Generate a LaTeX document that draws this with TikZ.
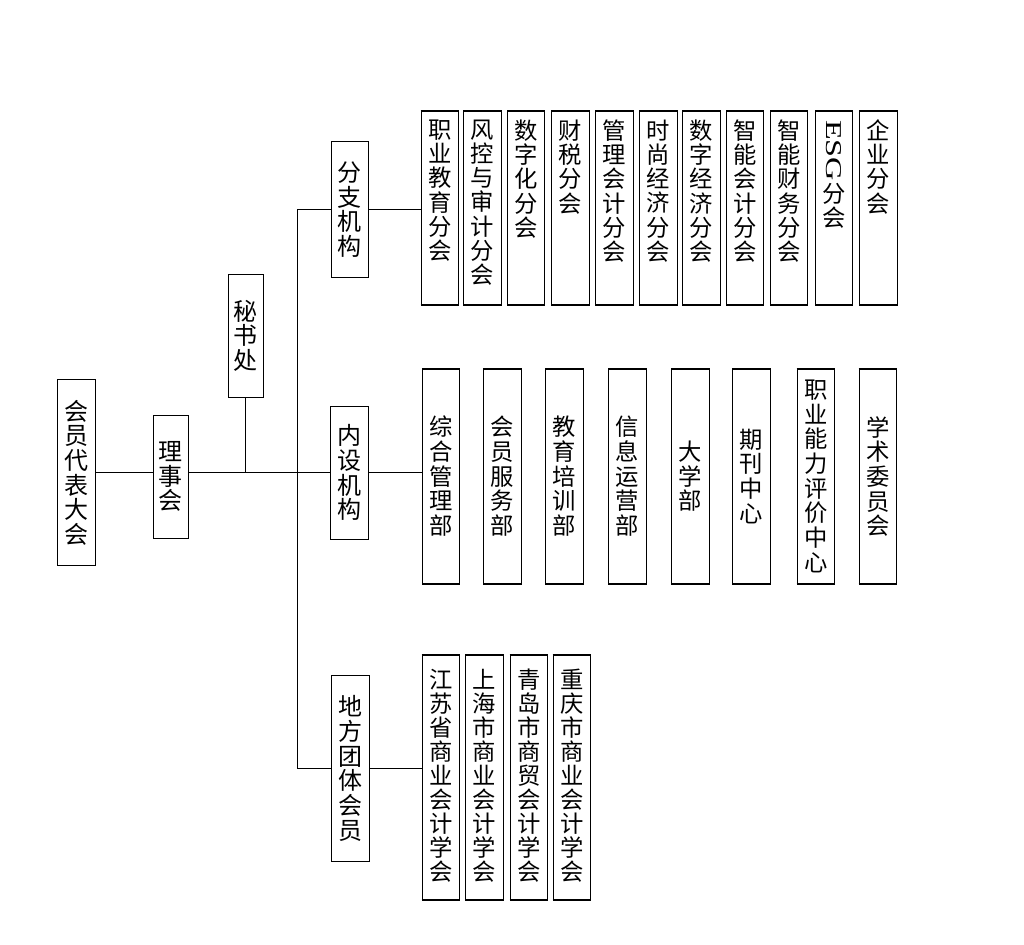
\documentclass[tikz,border=0pt]{standalone}
\usepackage{fontspec}
\setmainfont{Liberation Serif}
\newfontfamily\cjk{Noto Sans CJK SC}
\newcommand\tightls{\lineskiplimit=-10pt\relax}
\begin{document}
\begin{tikzpicture}[x=0.75pt,y=-0.75pt,
  mainbox/.style={draw, line width=0.75pt, inner sep=0pt, font=\cjk\fontsize{18}{18.5}\selectfont\tightls, align=center},
  subbox/.style={draw, line width=0.75pt, inner sep=0pt, anchor=north west, minimum width=28pt},
  midbox/.style={subbox, minimum height=160.3pt, font=\cjk\fontsize{17.5}{18.5}\selectfont\tightls, align=center},
  vtext/.style={inner sep=0pt, font=\cjk\fontsize{17.5}{18.2}\selectfont\tightls, align=center, anchor=north},
  btext/.style={vtext, font=\cjk\fontsize{17.5}{18}\selectfont\tightls},
  latin/.style={inner sep=0pt, rotate=-90, anchor=west, font=\rmfamily\fontsize{17}{17}\selectfont},
  edge/.style={line width=1.5pt},
  conn/.style={line width=0.75pt}]
\useasboundingbox (0,0) rectangle (1024,945);

% main column
\node[mainbox, minimum width=28.5pt, minimum height=139.5pt] (dahui) at (76.3,472.7) {会\\员\\代\\表\\大\\会};
\node[mainbox, minimum width=26.25pt, minimum height=92pt] (lishi) at (170.8,476.7) {理\\事\\会};
\node[mainbox, minimum width=26.25pt, minimum height=92pt] (mishu) at (245.8,335.7) {秘\\书\\处};
\node[mainbox, minimum width=27.75pt, minimum height=102pt] (fenzhi) at (349.5,209.5) {分\\支\\机\\构};
\node[mainbox, minimum width=28.5pt, minimum height=99.75pt] (neishe) at (349.3,472.7) {内\\设\\机\\构};
\node[mainbox, minimum width=28.7pt, minimum height=139.3pt] (difang) at (350.2,768.5) {地\\方\\团\\体\\会\\员};
\coordinate (trunk) at (297.3,0);

% top row
\foreach \n/\x in {f1/420.7,f2/463.3,f3/507,f4/551.3,f5/595.3,f6/639.3,f7/682.3,f8/726,f9/770,f10/815,f11/859.3}
  \node[subbox, minimum height=145pt] (\n) at (\x,110.7) {};
\node[vtext] at ([yshift=-6.5pt]f1.north) {职\\业\\教\\育\\分\\会};
\node[vtext] at ([yshift=-6.5pt]f2.north) {风\\控\\与\\审\\计\\分\\会};
\node[vtext] at ([yshift=-6.5pt]f3.north) {数\\字\\化\\分\\会};
\node[vtext] at ([yshift=-6.5pt]f4.north) {财\\税\\分\\会};
\node[vtext] at ([yshift=-6.5pt]f5.north) {管\\理\\会\\计\\分\\会};
\node[vtext] at ([yshift=-6.5pt]f6.north) {时\\尚\\经\\济\\分\\会};
\node[vtext] at ([yshift=-6.5pt]f7.north) {数\\字\\经\\济\\分\\会};
\node[vtext] at ([yshift=-6.5pt]f8.north) {智\\能\\会\\计\\分\\会};
\node[vtext] at ([yshift=-6.5pt]f9.north) {智\\能\\财\\务\\分\\会};
\node[latin] at ([yshift=-7pt]f10.north) {\scalebox{1.42}[1]{ESG}};
\node[vtext] at ([yshift=-54pt]f10.north) {分\\会};
\node[vtext] at ([yshift=-6.5pt]f11.north) {企\\业\\分\\会};

% middle row
\node[midbox] (m1) at (422,369) {综\\合\\管\\理\\部};
\node[midbox] (m2) at (483.3,369) {会\\员\\服\\务\\部};
\node[midbox] (m3) at (545.3,369) {教\\育\\培\\训\\部};
\node[midbox] (m4) at (608.3,369) {信\\息\\运\\营\\部};
\node[midbox] (m5) at (671.3,369) {大\\学\\部};
\node[midbox] (m6) at (732.3,369) {期\\刊\\中\\心};
\node[midbox] (m7) at (796.7,369) {职\\业\\能\\力\\评\\价\\中\\心};
\node[midbox] (m8) at (858.7,369) {学\\术\\委\\员\\会};

% bottom row
\foreach \n/\x in {b1/421.7,b2/465.3,b3/509.7,b4/552.7}
  \node[subbox, minimum height=183.2pt] (\n) at (\x,655) {};
\node[btext] at ([yshift=-10.5pt]b1.north) {江\\苏\\省\\商\\业\\会\\计\\学\\会};
\node[btext] at ([yshift=-10.5pt]b2.north) {上\\海\\市\\商\\业\\会\\计\\学\\会};
\node[btext] at ([yshift=-10.5pt]b3.north) {青\\岛\\市\\商\\贸\\会\\计\\学\\会};
\node[btext] at ([yshift=-10.5pt]b4.north) {重\\庆\\市\\商\\业\\会\\计\\学\\会};

% thicker top and bottom edges of the unit boxes
\foreach \n in {f1,f2,f3,f4,f5,f6,f7,f8,f9,f10,f11,m1,m2,m3,m4,m5,m6,m7,m8,b1,b2,b3,b4}
  \draw[edge] (\n.north west) -- (\n.north east) (\n.south west) -- (\n.south east);

% connectors
\draw[conn] (dahui.east) -- (dahui.east -| lishi.west);
\draw[conn] (lishi.east |- neishe.west) -- (neishe.west);
\draw[conn] (mishu.south) -- (mishu.south |- neishe.west);
\draw[conn] (fenzhi.west) -- (fenzhi.west -| trunk) |- (difang.west);
\draw[conn] (fenzhi.east) -- (fenzhi.east -| f1.west);
\draw[conn] (neishe.east) -- (neishe.east -| m1.west);
\draw[conn] (difang.east) -- (difang.east -| b1.west);
\end{tikzpicture}
\end{document}
